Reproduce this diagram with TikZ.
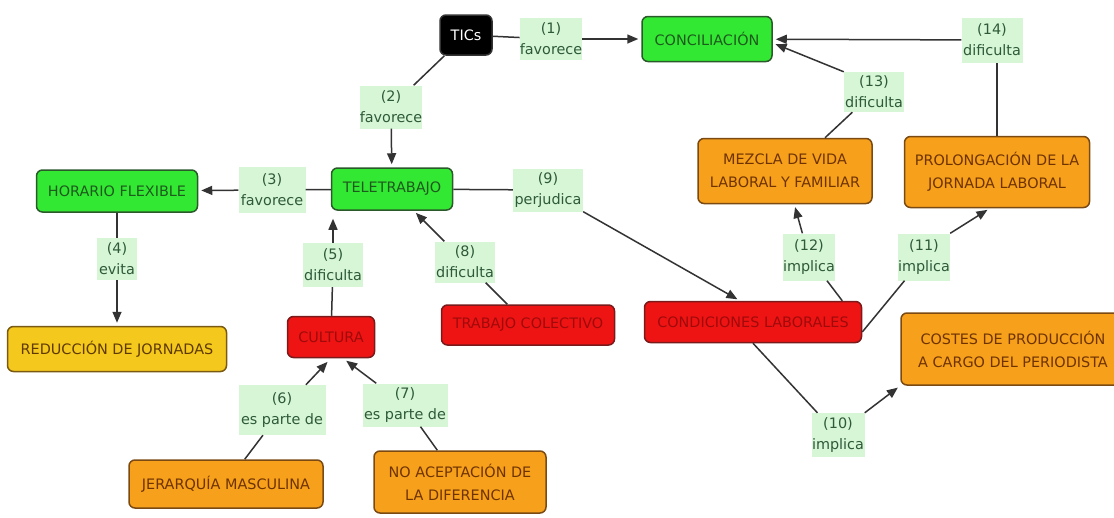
\documentclass[tikz,border=0pt]{standalone}
\usepackage{fontspec}
\setmainfont{DejaVu Sans}
\usetikzlibrary{arrows.meta}
\definecolor{cgreen}{HTML}{33E833}
\definecolor{cgreenb}{HTML}{2A5A2A}
\definecolor{cgreent}{HTML}{1E5A1E}
\definecolor{corange}{HTML}{F7A01C}
\definecolor{corangeb}{HTML}{7A4A12}
\definecolor{coranget}{HTML}{6E3300}
\definecolor{cyellow}{HTML}{F5C81E}
\definecolor{cyellowb}{HTML}{7A5A12}
\definecolor{cyellowt}{HTML}{5E3A00}
\definecolor{cred}{HTML}{EE1414}
\definecolor{credb}{HTML}{7A1A1A}
\definecolor{credt}{HTML}{A00A0A}
\definecolor{lgreen}{HTML}{D6F6D6}
\definecolor{lgtext}{HTML}{2E5A3A}
\definecolor{linec}{HTML}{333333}
\begin{document}
\begin{tikzpicture}[x=1pt,y=-1pt,
  concept/.style={draw, rounded corners=6pt, line width=1.5pt, align=center, inner sep=0pt,
    font=\fontsize{14.4}{23}\selectfont},
  greenc/.style={concept, fill=cgreen, draw=cgreenb, text=cgreent},
  blackc/.style={concept, fill=black, draw=black!80, text=white},
  orangec/.style={concept, fill=corange, draw=corangeb, text=coranget},
  yellowc/.style={concept, fill=cyellow, draw=cyellowb, text=cyellowt},
  redc/.style={concept, fill=cred, draw=credb, text=credt},
  lab/.style={fill=lgreen, inner sep=0pt, align=center, text=lgtext,
    font=\fontsize{14.4}{21}\selectfont},
  conn/.style={draw=linec, line width=1.5pt},
  arr/.style={conn, -{Triangle[length=11pt,width=9pt]}, shorten >=3pt}
]
\useasboundingbox (0,0) rectangle (1114,517);
\fill[white] (0,0) rectangle (1114,517);

% concepts
\node[blackc, minimum width=52pt, minimum height=40pt] (tics) at (466,35) {TICs};
\node[greenc, minimum width=130pt, minimum height=45pt] (conc) at (707,39) {CONCILIACIÓN};
\node[greenc, minimum width=161pt, minimum height=42pt] (hor) at (117,191) {HORARIO FLEXIBLE};
\node[greenc, minimum width=121pt, minimum height=42pt] (tele) at (392,189) {TELETRABAJO};
\node[yellowc, minimum width=219pt, minimum height=45pt] (redu) at (117,349) {REDUCCIÓN DE JORNADAS};
\node[redc, minimum width=87pt, minimum height=41pt] (cult) at (331,337) {CULTURA};
\node[redc, minimum width=173pt, minimum height=40pt] (trab) at (528,325) {TRABAJO COLECTIVO};
\node[redc, minimum width=217pt, minimum height=41pt] (cond) at (753,322) {CONDICIONES LABORALES};
\node[orangec, minimum width=174pt, minimum height=65pt] (mez) at (785,171) {MEZCLA DE VIDA\\LABORAL Y FAMILIAR};
\node[orangec, minimum width=185pt, minimum height=71pt] (prol) at (997,172) {PROLONGACIÓN DE LA\\JORNADA LABORAL};
\node[orangec, minimum width=224pt, minimum height=72pt] (cost) at (1013,349) {COSTES DE PRODUCCIÓN\\A CARGO DEL PERIODISTA};
\node[orangec, minimum width=194pt, minimum height=48pt] (jer) at (226,484) {JERARQUÍA MASCULINA};
\node[orangec, minimum width=172pt, minimum height=62pt] (noac) at (460,482) {NO ACEPTACIÓN DE\\LA DIFERENCIA};

% labels
\node[lab, minimum width=62pt, minimum height=42pt] (l1) at (551,39) {(1)\\favorece};
\node[lab, minimum width=62pt, minimum height=43pt] (l2) at (391,107) {(2)\\favorece};
\node[lab, minimum width=67pt, minimum height=46pt] (l3) at (272,190) {(3)\\favorece};
\node[lab, minimum width=40pt, minimum height=42pt] (l4) at (117,259) {(4)\\evita};
\node[lab, minimum width=60pt, minimum height=44pt] (l5) at (333,265) {(5)\\dificulta};
\node[lab, minimum width=87pt, minimum height=50pt] (l6) at (282,410) {(6)\\es parte de};
\node[lab, minimum width=85pt, minimum height=43pt] (l7) at (405,405) {(7)\\es parte de};
\node[lab, minimum width=60pt, minimum height=41pt] (l8) at (465,262) {(8)\\dificulta};
\node[lab, minimum width=70pt, minimum height=43pt] (l9) at (548,190) {(9)\\perjudica};
\node[lab, minimum width=53pt, minimum height=44pt] (l10) at (838,435) {(10)\\implica};
\node[lab, minimum width=52pt, minimum height=47pt] (l11) at (924,257) {(11)\\implica};
\node[lab, minimum width=52pt, minimum height=47pt] (l12) at (809,257) {(12)\\implica};
\node[lab, minimum width=60pt, minimum height=40pt] (l13) at (874,92) {(13)\\dificulta};
\node[lab, minimum width=61pt, minimum height=45pt] (l14) at (992,40) {(14)\\dificulta};

% connectors
\draw[conn] (tics) -- (l1);
\draw[arr] (l1) -- (conc);
\draw[conn] (tics) -- (l2);
\draw[arr] (l2) -- (tele);
\draw[conn] (tele) -- (l3);
\draw[arr] (l3) -- (hor);
\draw[conn] (hor) -- (l4);
\draw[arr] (l4) -- (redu);
\draw[conn] (cult) -- (l5);
\draw[arr, shorten >=8pt] (l5.north) -- (l5.north |- tele.south);
\draw[conn] (jer) -- (l6);
\draw[arr, shorten >=5pt] (l6) -- (cult.south);
\draw[conn] (noac) -- (l7);
\draw[arr, shorten >=4pt] (l7) -- ([xshift=12pt]cult.south);
\draw[conn] (trab) -- (l8);
\draw[arr] (l8) -- (tele);
\draw[conn] (tele) -- (l9);
\draw[arr] (l9.south east) -- ([xshift=-13pt]cond.north);
\draw[conn] (cond.south) -- (l10);
\draw[arr] (l10.north east) -- (cost.south west);
\draw[conn] ([yshift=-10pt]cond.east) -- (l11);
\draw[arr] (l11.north east) -- ([xshift=-7pt]prol.south);
\draw[conn] ([xshift=-20pt]cond.north east) -- (l12);
\draw[arr] (l12) -- (mez);
\draw[conn] ([xshift=40pt]mez.north) -- (l13);
\draw[arr] (l13.north west) -- ([yshift=-4pt]conc.east);
\draw[conn] (prol.north) -- (prol.north |- l14.south);
\draw[arr] (l14) -- (conc);
\end{tikzpicture}
\end{document}
